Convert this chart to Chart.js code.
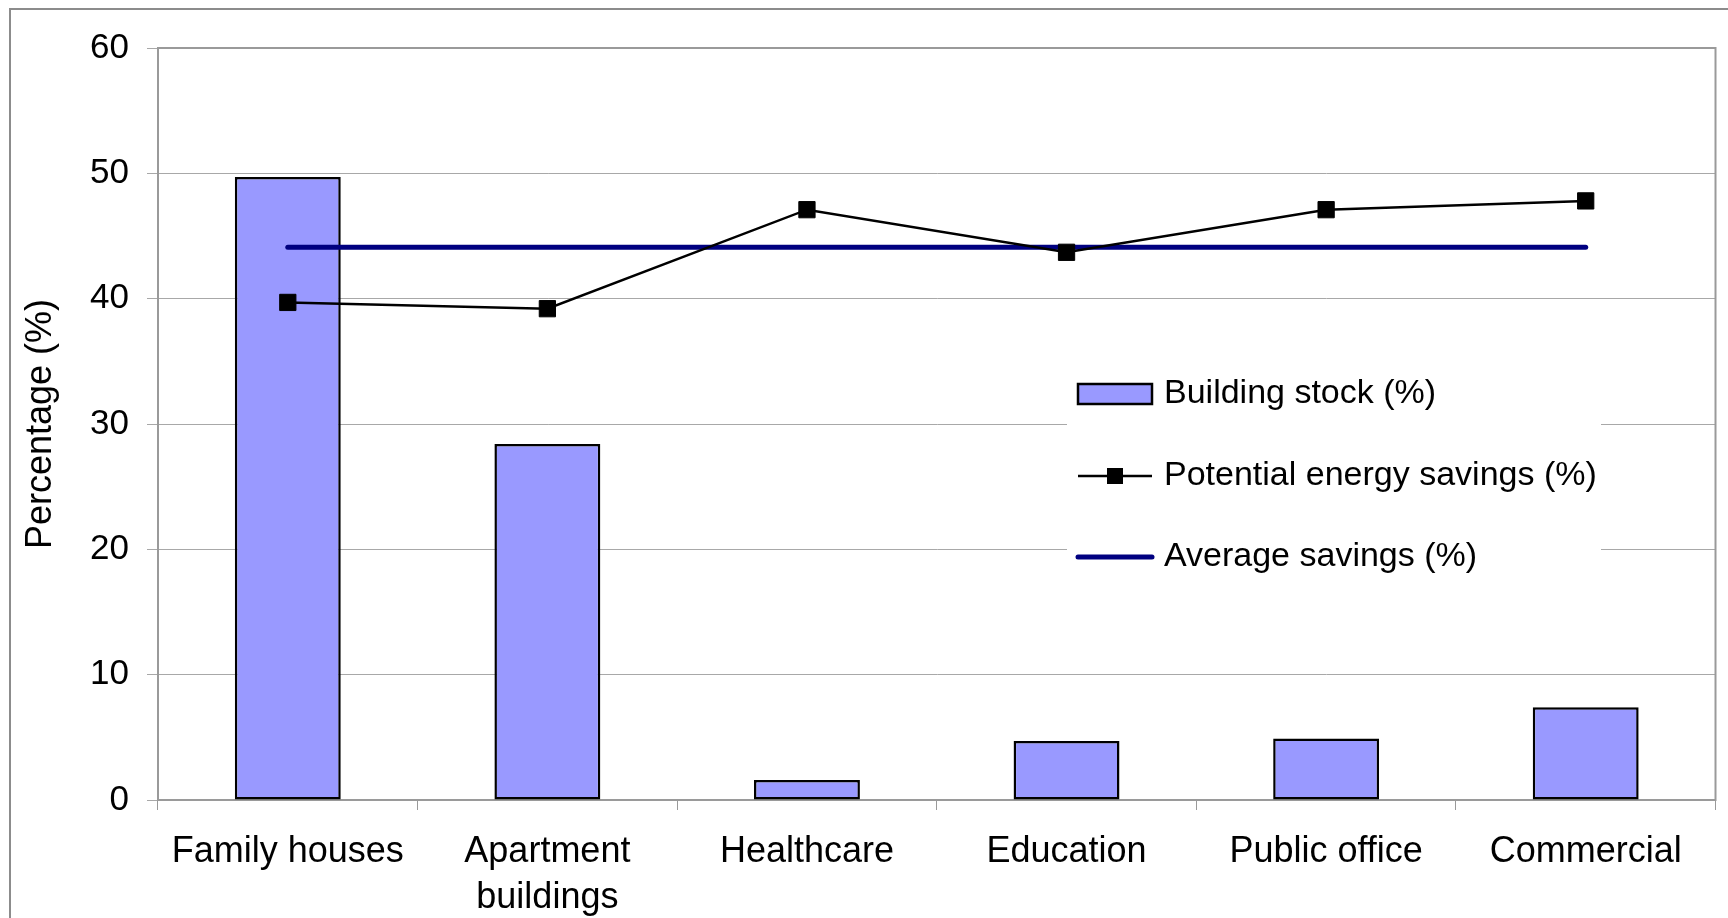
<!DOCTYPE html>
<html lang="en">
<head>
<meta charset="utf-8">
<title>Building stock and potential energy savings</title>
<script src="https://cdn.jsdelivr.net/npm/chart.js@4.4.1/dist/chart.umd.min.js"></script>
<style>
  html, body { margin: 0; padding: 0; background: #fff; overflow: hidden; }
  #moldura {
    position: absolute; left: 9px; top: 8px;
    width: 1780px; height: 960px;
    border: 2px solid #8c8c8c;
  }
  #caixa { position: absolute; left: 0; top: 0; width: 1728px; height: 918px; }
</style>
</head>
<body>
<div id="moldura"></div>
<div id="caixa"><canvas id="grafico"></canvas></div>
<script>
// Dados do gráfico (valores em %)
const categorias = ['Family houses', ['Apartment', 'buildings'], 'Healthcare', 'Education', 'Public office', 'Commercial'];
const estoqueEdificios = [49.7, 28.4, 1.6, 4.7, 4.9, 7.4];
const economiaPotencial = [39.7, 39.2, 47.1, 43.7, 47.1, 47.8];
const economiaMedia = [44.1, 44.1, 44.1, 44.1, 44.1, 44.1];
const ticksY = [0, 10, 20, 30, 40, 50, 60];

const fonte = "'Liberation Sans', Arial, sans-serif";
const cinzaBorda = '#9a9a9a';

// Contorno da área de plotagem (topo e lateral direita inclusos)
const molduraArea = {
  id: 'molduraArea',
  beforeDatasetsDraw(chart) {
    const { ctx, chartArea: a } = chart;
    ctx.save();
    ctx.strokeStyle = cinzaBorda;
    ctx.lineWidth = 2;
    ctx.strokeRect(a.left, a.top, a.right - a.left, a.bottom - a.top);
    ctx.restore();
  },
};

// Legenda desenhada dentro da área do gráfico, com fundo branco
const legendaInterna = {
  id: 'legendaInterna',
  beforeDatasetsDraw(chart) {
    const { ctx } = chart;
    const ds = chart.data.datasets;
    ctx.save();
    ctx.fillStyle = '#fff';
    ctx.fillRect(1067, 340, 534, 256);

    const xs = 1078, xe = 1152, xt = 1164;
    const linhas = [394, 476, 557];
    ctx.font = '34px ' + fonte;
    ctx.textBaseline = 'middle';
    ctx.textAlign = 'left';

    // barra
    ctx.fillStyle = ds[2].backgroundColor;
    ctx.strokeStyle = '#000';
    ctx.lineWidth = 2.5;
    ctx.fillRect(xs, linhas[0] - 10, xe - xs, 20);
    ctx.strokeRect(xs, linhas[0] - 10, xe - xs, 20);

    // linha com marcador
    ctx.beginPath();
    ctx.moveTo(xs, linhas[1]);
    ctx.lineTo(xe, linhas[1]);
    ctx.lineWidth = 2.5;
    ctx.strokeStyle = ds[0].borderColor;
    ctx.stroke();
    ctx.fillStyle = ds[0].pointBackgroundColor;
    ctx.fillRect((xs + xe) / 2 - 8, linhas[1] - 8, 16, 16);

    // linha da média
    ctx.beginPath();
    ctx.moveTo(xs, linhas[2]);
    ctx.lineTo(xe, linhas[2]);
    ctx.lineWidth = 5;
    ctx.lineCap = 'round';
    ctx.strokeStyle = ds[1].borderColor;
    ctx.stroke();

    ctx.fillStyle = '#000';
    ctx.fillText(ds[2].label, xt, linhas[0]);
    ctx.fillText(ds[0].label, xt, linhas[1]);
    ctx.fillText(ds[1].label, xt, linhas[2]);
    ctx.restore();
  },
};

new Chart(document.getElementById('grafico'), {
  type: 'bar',
  data: {
    labels: categorias,
    datasets: [
      {
        type: 'line',
        label: 'Potential energy savings (%)',
        data: economiaPotencial,
        borderColor: '#000',
        borderWidth: 2.5,
        pointStyle: 'rect',
        pointRadius: 11.5,
        pointBackgroundColor: '#000',
        pointBorderColor: '#000',
        pointBorderWidth: 1,
        tension: 0,
        order: 0,
      },
      {
        type: 'line',
        label: 'Average savings (%)',
        data: economiaMedia,
        borderColor: '#000080',
        borderWidth: 5,
        borderCapStyle: 'round',
        pointRadius: 0,
        order: 1,
      },
      {
        type: 'bar',
        label: 'Building stock (%)',
        data: estoqueEdificios,
        backgroundColor: '#9999ff',
        borderColor: '#000',
        borderWidth: 2.5,
        borderSkipped: false,
        barPercentage: 0.408,
        categoryPercentage: 1.0,
        order: 2,
      },
    ],
  },
  options: {
    responsive: true,
    maintainAspectRatio: false,
    animation: false,
    layout: { padding: { top: 48, right: 12, left: 0, bottom: 0 } },
    plugins: { legend: { display: false }, tooltip: { enabled: false } },
    scales: {
      x: {
        afterFit: (s) => { s.height = 118; },
        grid: { offset: true, drawOnChartArea: false, drawTicks: true, tickLength: 10, color: cinzaBorda },
        border: { display: true, color: cinzaBorda, width: 2 },
        ticks: { color: '#000', padding: 19, font: { family: fonte, size: 36, lineHeight: 1.28 }, maxRotation: 0, autoSkip: false },
      },
      y: {
        min: 0,
        max: 60,
        afterFit: (s) => { s.width = 158; },
        afterBuildTicks: (s) => { s.ticks = ticksY.map((v) => ({ value: v })); },
        grid: { color: '#a8a8a8', lineWidth: 1, drawTicks: true, tickLength: 11 },
        border: { display: true, color: cinzaBorda, width: 2 },
        ticks: { color: '#000', padding: 18, font: { family: fonte, size: 35 } },
        title: {
          display: true,
          text: 'Percentage (%)',
          color: '#000',
          font: { family: fonte, size: 36 },
          padding: { top: 19, bottom: 0 },
        },
      },
    },
  },
  plugins: [molduraArea, legendaInterna],
});
</script>
</body>
</html>
